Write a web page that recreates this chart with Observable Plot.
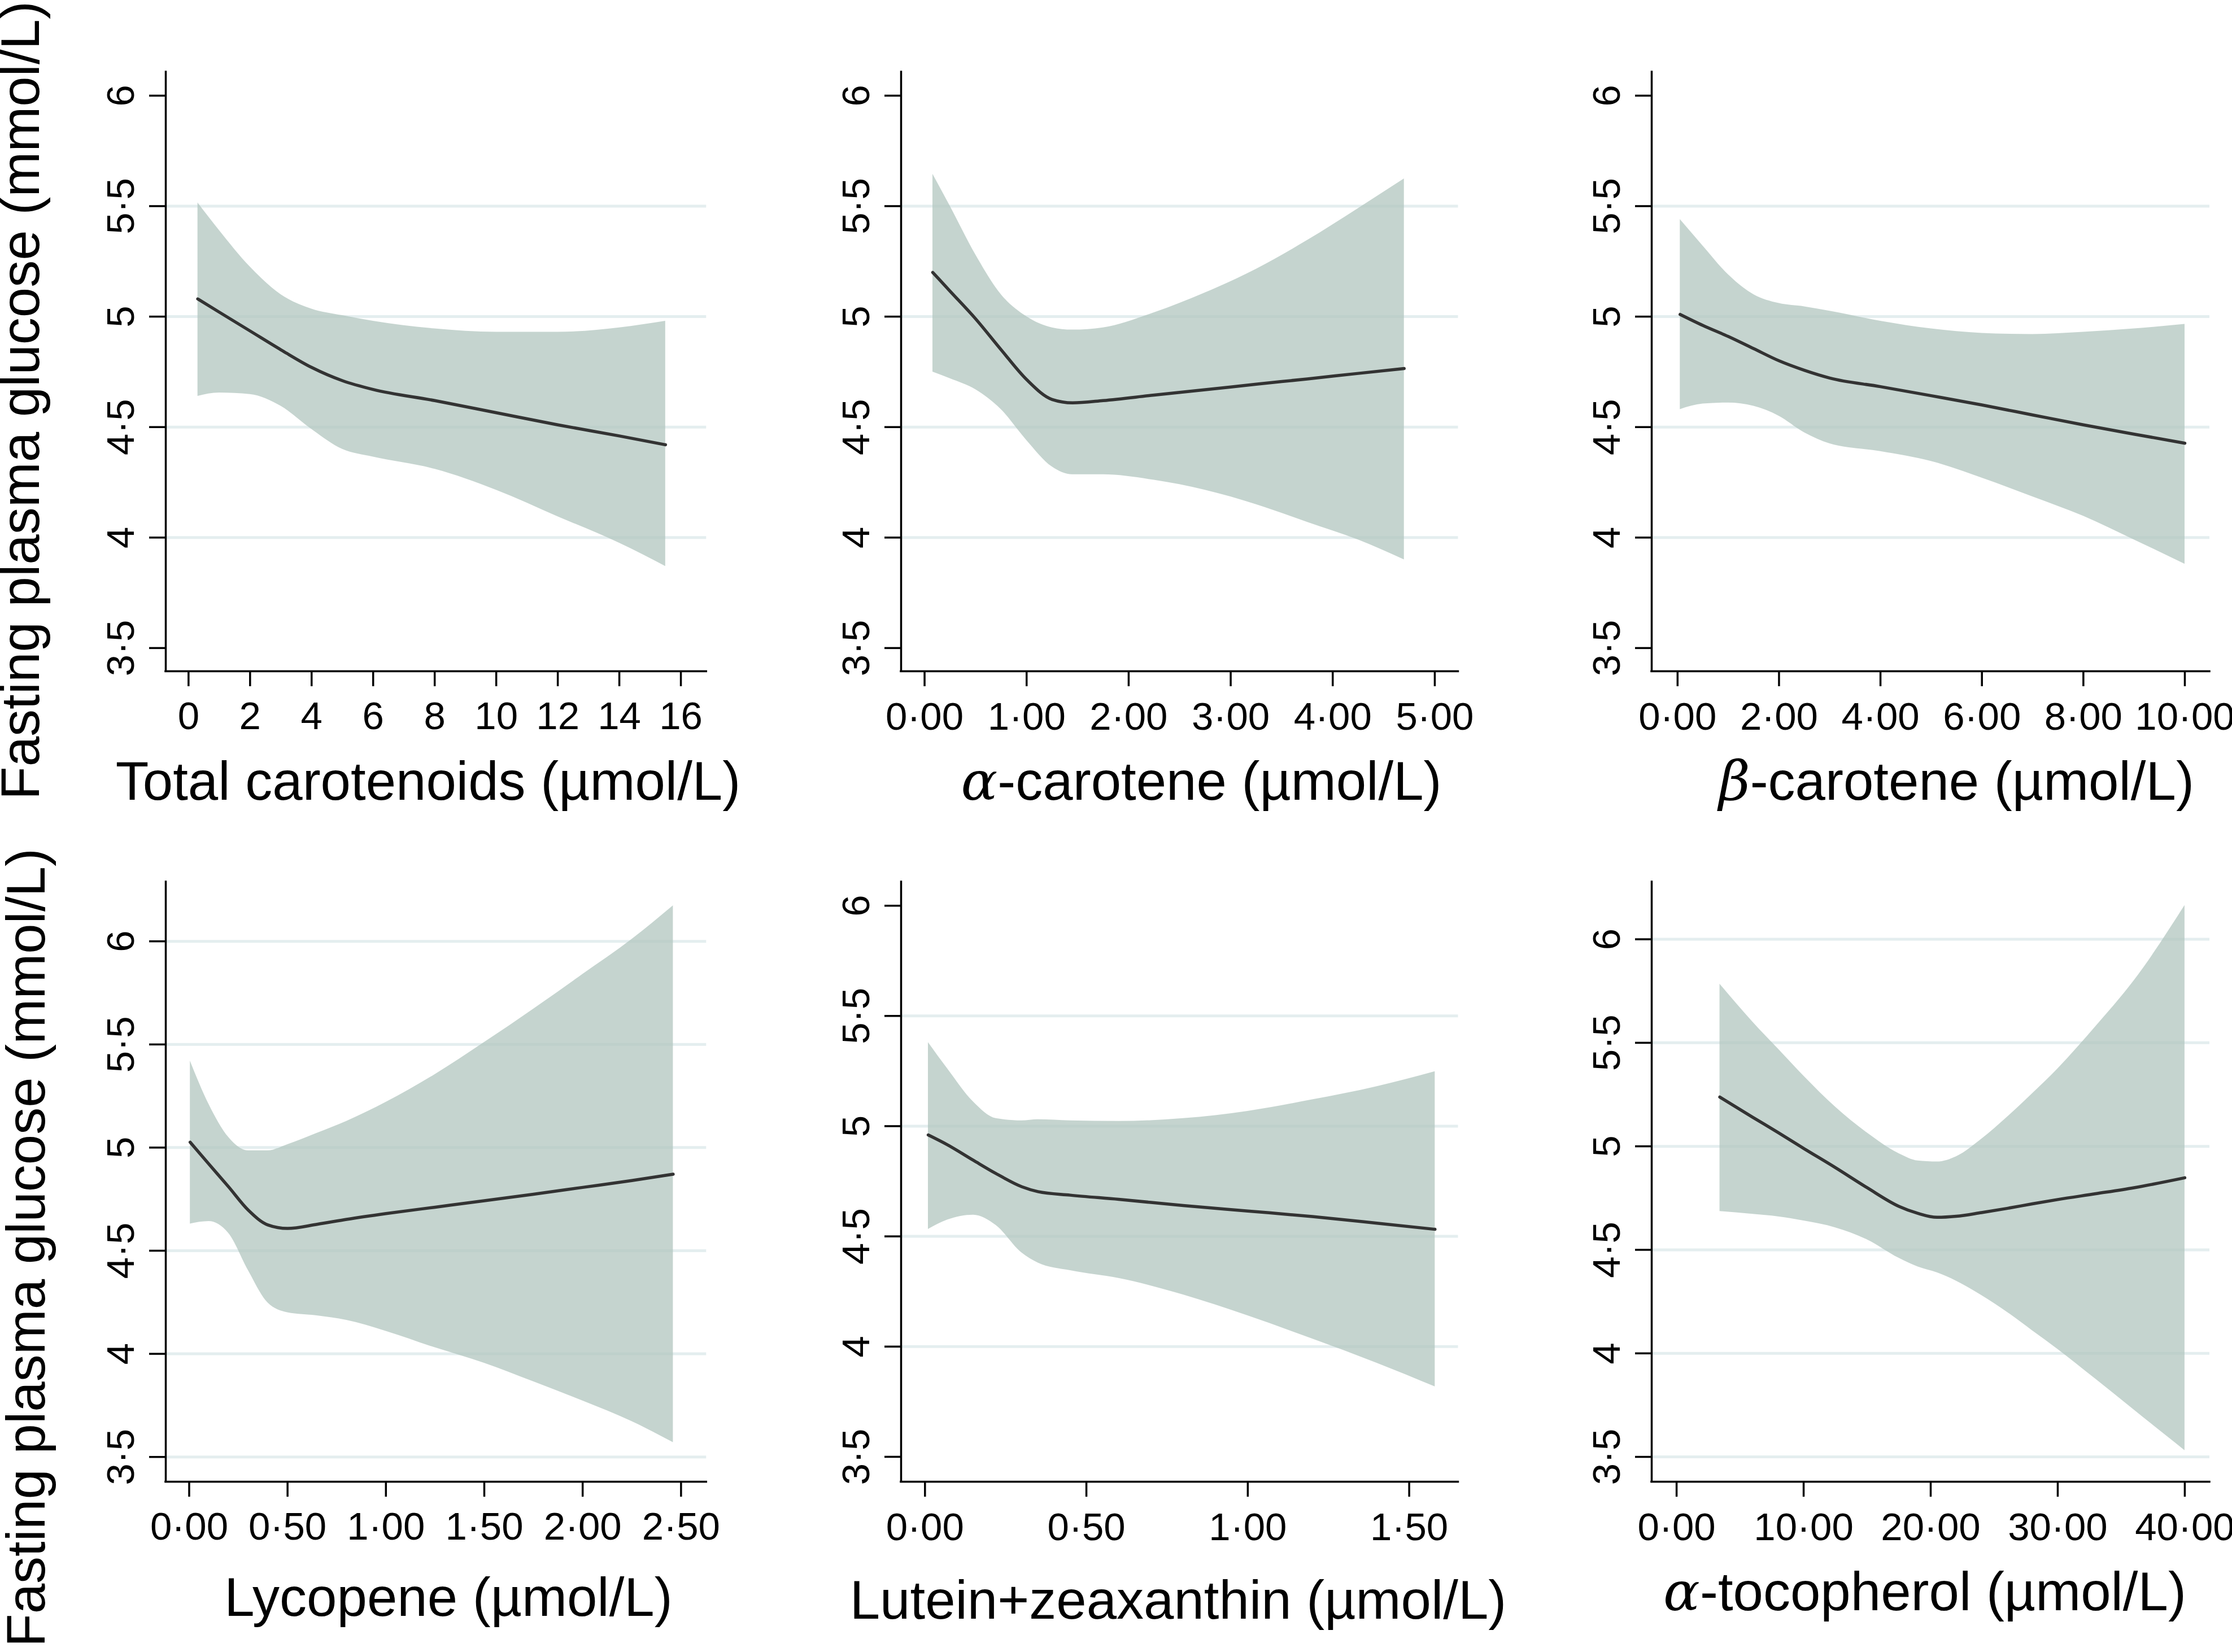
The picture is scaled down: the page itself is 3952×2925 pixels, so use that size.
<!DOCTYPE html>
<html>
<head>
<meta charset="utf-8">
<script src="https://cdn.jsdelivr.net/npm/d3@7"></script>
<script src="https://cdn.jsdelivr.net/npm/@observablehq/plot@0.6"></script>
<style>
html, body { margin: 0; padding: 0; background: #fff; }
#chart { position: relative; width: 3952px; height: 2925px; overflow: hidden; background: #fff;
  font-family: "Liberation Sans", Arial, sans-serif; color: #000; }
#chart svg.panel { position: absolute; max-width: none !important; }
#chart svg.titles { position: absolute; left: 0; top: 0; pointer-events: none; }
</style>
</head>
<body>
<div id="chart"></div>
<script>
// ---------- shared y axis ----------
const yTicks = [3.5, 4, 4.5, 5, 5.5, 6];
const yTickLabels = ["3·5", "4", "4·5", "5", "5·5", "6"];
const yTitle = "Fasting plasma glucose (mmol/L)";

// ---------- Panel 1: Total carotenoids ----------
const totalX   = [0.3, 1, 2, 3, 4, 5, 6, 8, 10, 12, 14, 15.5];
const totalFit = [5.08, 5.02, 4.935, 4.85, 4.77, 4.71, 4.67, 4.62, 4.565, 4.51, 4.46, 4.42];
const totalHi  = [5.515, 5.39, 5.225, 5.10, 5.035, 5.005, 4.98, 4.945, 4.93, 4.93, 4.95, 4.98];
const totalLo  = [4.64, 4.655, 4.648, 4.595, 4.49, 4.40, 4.365, 4.31, 4.215, 4.095, 3.975, 3.87];
const totalTicks = [0, 2, 4, 6, 8, 10, 12, 14, 16];
const totalTickLabels = ["0", "2", "4", "6", "8", "10", "12", "14", "16"];

// ---------- Panel 2: alpha-carotene ----------
const acarX   = [0.08, 0.25, 0.5, 0.75, 1.0, 1.25, 1.45, 1.75, 2.25, 2.75, 3.25, 3.75, 4.25, 4.7];
const acarFit = [5.2, 5.115, 4.99, 4.85, 4.715, 4.625, 4.61, 4.62, 4.645, 4.669, 4.694, 4.718, 4.743, 4.765];
const acarHi  = [5.645, 5.50, 5.28, 5.10, 5.00, 4.95, 4.94, 4.95, 5.018, 5.108, 5.215, 5.345, 5.49, 5.624];
const acarLo  = [4.75, 4.72, 4.67, 4.58, 4.44, 4.32, 4.285, 4.285, 4.26, 4.215, 4.15, 4.07, 3.99, 3.90];
const acarTicks = [0, 1, 2, 3, 4, 5];
const acarTickLabels = ["0·00", "1·00", "2·00", "3·00", "4·00", "5·00"];

// ---------- Panel 3: beta-carotene ----------
const bcarX   = [0.05, 0.5, 1, 1.5, 2, 2.5, 3, 4, 5, 6, 7, 8, 9, 10];
const bcarFit = [5.01, 4.96, 4.91, 4.855, 4.80, 4.757, 4.722, 4.683, 4.642, 4.60, 4.555, 4.51, 4.468, 4.427];
const bcarHi  = [5.44, 5.32, 5.19, 5.10, 5.06, 5.045, 5.025, 4.98, 4.945, 4.925, 4.92, 4.93, 4.945, 4.966];
const bcarLo  = [4.58, 4.605, 4.61, 4.595, 4.55, 4.475, 4.425, 4.39, 4.345, 4.27, 4.185, 4.097, 3.99, 3.88];
const bcarTicks = [0, 2, 4, 6, 8, 10];
const bcarTickLabels = ["0·00", "2·00", "4·00", "6·00", "8·00", "10·00"];

// ---------- Panel 4: Lycopene ----------
const lycoX   = [0.005, 0.1, 0.2, 0.3, 0.4, 0.5, 0.65, 0.8, 1.0, 1.25, 1.5, 1.75, 2.0, 2.25, 2.46];
const lycoFit = [5.026, 4.92, 4.81, 4.697, 4.625, 4.608, 4.628, 4.652, 4.68, 4.711, 4.742, 4.774, 4.807, 4.84, 4.871];
const lycoHi  = [5.42, 5.21, 5.05, 4.985, 4.985, 5.015, 5.07, 5.128, 5.22, 5.355, 5.51, 5.672, 5.84, 6.01, 6.173];
const lycoLo  = [4.63, 4.642, 4.585, 4.405, 4.247, 4.20, 4.185, 4.163, 4.11, 4.03, 3.955, 3.865, 3.772, 3.672, 3.57];
const lycoTicks = [0, 0.5, 1, 1.5, 2, 2.5];
const lycoTickLabels = ["0·00", "0·50", "1·00", "1·50", "2·00", "2·50"];

// ---------- Panel 5: Lutein + zeaxanthin ----------
const lutX   = [0.01, 0.07, 0.15, 0.22, 0.3, 0.35, 0.45, 0.6, 0.8, 1.0, 1.2, 1.4, 1.58];
const lutFit = [4.96, 4.915, 4.845, 4.785, 4.725, 4.703, 4.687, 4.668, 4.64, 4.615, 4.59, 4.56, 4.532];
const lutHi  = [5.38, 5.26, 5.11, 5.035, 5.025, 5.03, 5.025, 5.022, 5.035, 5.068, 5.12, 5.18, 5.248];
const lutLo  = [4.532, 4.575, 4.597, 4.55, 4.425, 4.38, 4.345, 4.31, 4.235, 4.14, 4.035, 3.925, 3.818];
const lutTicks = [0, 0.5, 1, 1.5];
const lutTickLabels = ["0·00", "0·50", "1·00", "1·50"];

// ---------- Panel 6: alpha-tocopherol ----------
const tocX   = [3.4, 6, 8, 10, 12.5, 15, 17.5, 19, 20.5, 22, 24, 26, 28, 30, 33, 36, 40];
const tocFit = [5.238, 5.14, 5.066, 4.99, 4.897, 4.80, 4.71, 4.676, 4.657, 4.662, 4.68, 4.70, 4.722, 4.743, 4.771, 4.80, 4.848];
const tocHi  = [5.784, 5.60, 5.47, 5.34, 5.19, 5.065, 4.965, 4.93, 4.925, 4.95, 5.035, 5.14, 5.255, 5.375, 5.58, 5.80, 6.164];
const tocLo  = [4.686, 4.672, 4.66, 4.64, 4.607, 4.549, 4.46, 4.418, 4.39, 4.35, 4.28, 4.20, 4.11, 4.02, 3.875, 3.727, 3.531];
const tocTicks = [0, 10, 20, 30, 40];
const tocTickLabels = ["0·00", "10·00", "20·00", "30·00", "40·00"];

// ---------- styling constants ----------
const bandFill = "rgb(177,197,190)";
const lineColor = "#333333";
const gridColor = "#e4eeef";
const font = "'Liberation Sans', Arial, Helvetica, sans-serif";

// panel layout: frame = [left, right, top, bottom] in page pixels
const panels = [
  {x: totalX, fit: totalFit, hi: totalHi, lo: totalLo, ticks: totalTicks, labels: totalTickLabels,
   xDomain: [-0.74, 16.83], yDomain: [3.395, 6.107], grid: [4, 4.5, 5, 5.5], frame: [292.7, 1250, 127, 1188],
   title: [{t: "Total carotenoids (µmol/L)"}], tx: 758, ty: 1416},
  {x: acarX, fit: acarFit, hi: acarHi, lo: acarLo, ticks: acarTicks, labels: acarTickLabels,
   xDomain: [-0.23, 5.23], yDomain: [3.395, 6.107], grid: [4, 4.5, 5, 5.5], frame: [1594.5, 2581, 127, 1188],
   title: [{t: "α", greek: true}, {t: "-carotene (µmol/L)"}], tx: 2127, ty: 1416},
  {x: bcarX, fit: bcarFit, hi: bcarHi, lo: bcarLo, ticks: bcarTicks, labels: bcarTickLabels,
   xDomain: [-0.51, 10.49], yDomain: [3.395, 6.107], grid: [4, 4.5, 5, 5.5], frame: [2924, 3912, 127, 1188],
   title: [{t: "β", greek: true}, {t: "-carotene (µmol/L)"}], tx: 3464, ty: 1416},
  {x: lycoX, fit: lycoFit, hi: lycoHi, lo: lycoLo, ticks: lycoTicks, labels: lycoTickLabels,
   xDomain: [-0.119, 2.629], yDomain: [3.38, 6.288], grid: [3.5, 4, 4.5, 5, 5.5, 6], frame: [292.7, 1250, 1561, 2623],
   title: [{t: "Lycopene (µmol/L)"}], tx: 794, ty: 2861},
  {x: lutX, fit: lutFit, hi: lutHi, lo: lutLo, ticks: lutTicks, labels: lutTickLabels,
   xDomain: [-0.074, 1.652], yDomain: [3.387, 6.108], grid: [4, 4.5, 5, 5.5], frame: [1594.5, 2581, 1561, 2623],
   title: [{t: "Lutein+zeaxanthin (µmol/L)"}], tx: 2086, ty: 2866},
  {x: tocX, fit: tocFit, hi: tocHi, lo: tocLo, ticks: tocTicks, labels: tocTickLabels,
   xDomain: [-1.96, 41.96], yDomain: [3.38, 6.277], grid: [3.5, 4, 4.5, 5, 5.5, 6], frame: [2924, 3912, 1561, 2623],
   title: [{t: "α", greek: true}, {t: "-tocopherol (µmol/L)"}], tx: 3408, ty: 2851}
];

const chart = document.getElementById("chart");
const yLabelMap = new Map(yTicks.map((t, i) => [t, yTickLabels[i]]));

const ML = 260, MR = 40, MT = 20, MB = 200;

for (const p of panels) {
  const rows = p.x.map((x, i) => ({x, fit: p.fit[i], lo: p.lo[i], hi: p.hi[i]}));
  const xLabelMap = new Map(p.ticks.map((t, i) => [t, p.labels[i]]));
  const fw = p.frame[1] - p.frame[0];
  const fh = p.frame[3] - p.frame[2];
  const svg = Plot.plot({
    width: fw + ML + MR,
    height: fh + MT + MB,
    marginLeft: ML, marginRight: MR, marginTop: MT, marginBottom: MB,
    style: {fontFamily: font, fontSize: "68px", background: "transparent", color: "black", overflow: "visible"},
    x: {domain: p.xDomain, axis: null},
    y: {domain: p.yDomain, axis: null},
    marks: [
      Plot.ruleY(p.grid, {stroke: gridColor, strokeWidth: 5}),
      Plot.areaY(rows, {x: "x", y1: "lo", y2: "hi", fill: bandFill, fillOpacity: 0.74, curve: "monotone-x"}),
      Plot.lineY(rows, {x: "x", y: "fit", stroke: lineColor, strokeWidth: 5.5, curve: "monotone-x"}),
      Plot.axisX({ticks: p.ticks, tickFormat: d => xLabelMap.get(d), tickSize: 27, tickPadding: 27,
        fontSize: 69, strokeWidth: 3.5, label: null}),
      Plot.axisY({ticks: yTicks, tickFormat: d => yLabelMap.get(d), tickSize: 29, tickPadding: 28,
        tickRotate: -90, fontSize: 69, strokeWidth: 3.5, label: null}),
      Plot.ruleX([p.xDomain[0]], {stroke: "black", strokeWidth: 3.5, strokeLinecap: "square"}),
      Plot.ruleY([p.yDomain[0]], {stroke: "black", strokeWidth: 3.5, strokeLinecap: "square"})
    ]
  });
  svg.classList.add("panel");
  svg.style.left = (p.frame[0] - ML) + "px";
  svg.style.top = (p.frame[2] - MT) + "px";
  chart.appendChild(svg);
}

// ---------- titles overlay ----------
const ov = d3.create("svg")
  .attr("class", "titles")
  .attr("width", 3952).attr("height", 2925)
  .attr("viewBox", "0 0 3952 2925")
  .style("font-family", font);

for (const p of panels) {
  const t = ov.append("text")
    .attr("x", p.tx).attr("y", p.ty)
    .attr("text-anchor", "middle")
    .attr("font-size", 96)
    .attr("fill", "black");
  for (const part of p.title) {
    const s = t.append("tspan").text(part.t);
    if (part.greek) s.attr("font-family", "'DejaVu Serif', serif").attr("font-style", "italic");
  }
}

// y-axis titles (one per row)
const yTitlePos = [[69, 709], [79, 2209]];
for (const [x, y] of yTitlePos) {
  ov.append("text")
    .attr("transform", `translate(${x},${y}) rotate(-90)`)
    .attr("text-anchor", "middle")
    .attr("font-size", 96)
    .attr("fill", "black")
    .text(yTitle);
}
chart.appendChild(ov.node());
</script>
</body>
</html>
